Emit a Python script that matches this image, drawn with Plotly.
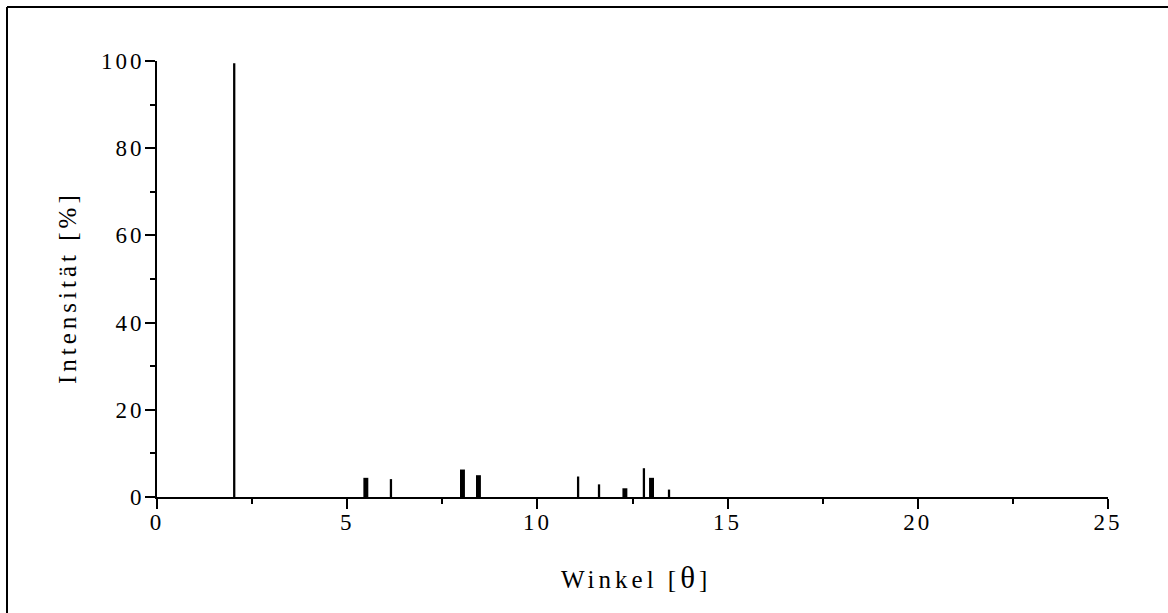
import plotly.graph_objects as go

# Diffraction peaks: angle (theta) and relative intensity (%)
narrow_theta = [2.03, 6.15, 11.07, 11.62, 12.80, 13.46]
narrow_intensity = [99.5, 4.1, 4.7, 2.9, 6.6, 1.7]

broad_theta = [5.49, 8.03, 8.45, 12.30, 13.00]
broad_intensity = [4.4, 6.3, 5.0, 2.0, 4.4]

x_ticks = [0, 5, 10, 15, 20, 25]
y_ticks = [0, 20, 40, 60, 80, 100]

SERIF = "Liberation Serif, Times New Roman, serif"

fig = go.Figure()
fig.add_trace(go.Bar(x=narrow_theta, y=narrow_intensity, width=0.06,
                     marker=dict(color="black", line=dict(width=0)),
                     showlegend=False))
fig.add_trace(go.Bar(x=broad_theta, y=broad_intensity, width=0.13,
                     marker=dict(color="black", line=dict(width=0)),
                     showlegend=False))

W, H = 1168, 613
L, R, T, B = 157, 60, 61, 116
pw, ph = W - L - R, H - T - B

axis_common = dict(showgrid=False, zeroline=False, showline=True, linecolor="black",
                   linewidth=2, ticks="outside", ticklen=10, tickwidth=2,
                   tickcolor="black", tickfont=dict(family=SERIF, size=23),
                   fixedrange=True)

fig.update_layout(
    width=W, height=H,
    margin=dict(l=L, r=R, t=T, b=B),
    paper_bgcolor="white", plot_bgcolor="white",
    barmode="overlay",
    font=dict(family=SERIF, size=23, color="black"),
    xaxis=dict(range=[0, 25], tickvals=x_ticks, ticktext=[str(v) for v in x_ticks],
               minor=dict(tickvals=[2.5, 7.5, 12.5, 17.5, 22.5], ticks="outside",
                          ticklen=5, tickwidth=2, tickcolor="black"),
               ticklabelstandoff=-7,
               **axis_common),
    yaxis=dict(range=[0, 100], tickvals=y_ticks, ticktext=[str(v) for v in y_ticks],
               minor=dict(tickvals=[10, 30, 50, 70, 90], ticks="outside",
                          ticklen=5, tickwidth=2, tickcolor="black"),
               ticklabelstandoff=-4,
               **axis_common),
    annotations=[
        dict(text="Winkel [<span style='font-size:31px'>θ</span>]",
             xref="paper", yref="paper",
             x=(636 - L) / pw, y=(H - B - 577) / ph,
             xanchor="center", yanchor="middle", showarrow=False,
             font=dict(family=SERIF, size=25)),
        dict(text="Intensität [%]", textangle=-90,
             xref="paper", yref="paper",
             x=(67 - L) / pw, y=(H - B - 288) / ph,
             xanchor="center", yanchor="middle", showarrow=False,
             font=dict(family=SERIF, size=25)),
    ],
    shapes=[
        dict(type="line", xref="paper", yref="paper",
             x0=(7 - L) / pw, x1=(W + 5 - L) / pw,
             y0=(H - B - 7) / ph, y1=(H - B - 7) / ph,
             line=dict(color="black", width=2)),
        dict(type="line", xref="paper", yref="paper",
             x0=(7 - L) / pw, x1=(7 - L) / pw,
             y0=(H - B - 7) / ph, y1=(H - B - H - 5) / ph,
             line=dict(color="black", width=2)),
    ],
)

# Widen the character spacing of tick labels and axis titles
spacing_css = """
var st = document.createElement('style');
st.textContent = '.xtick text, .ytick text {letter-spacing: 3px;} ' +
                 '.annotation-text {letter-spacing: 4px;}';
document.head.appendChild(st);
"""

fig.write_html("out.html", config=dict(displayModeBar=False), post_script=spacing_css)
